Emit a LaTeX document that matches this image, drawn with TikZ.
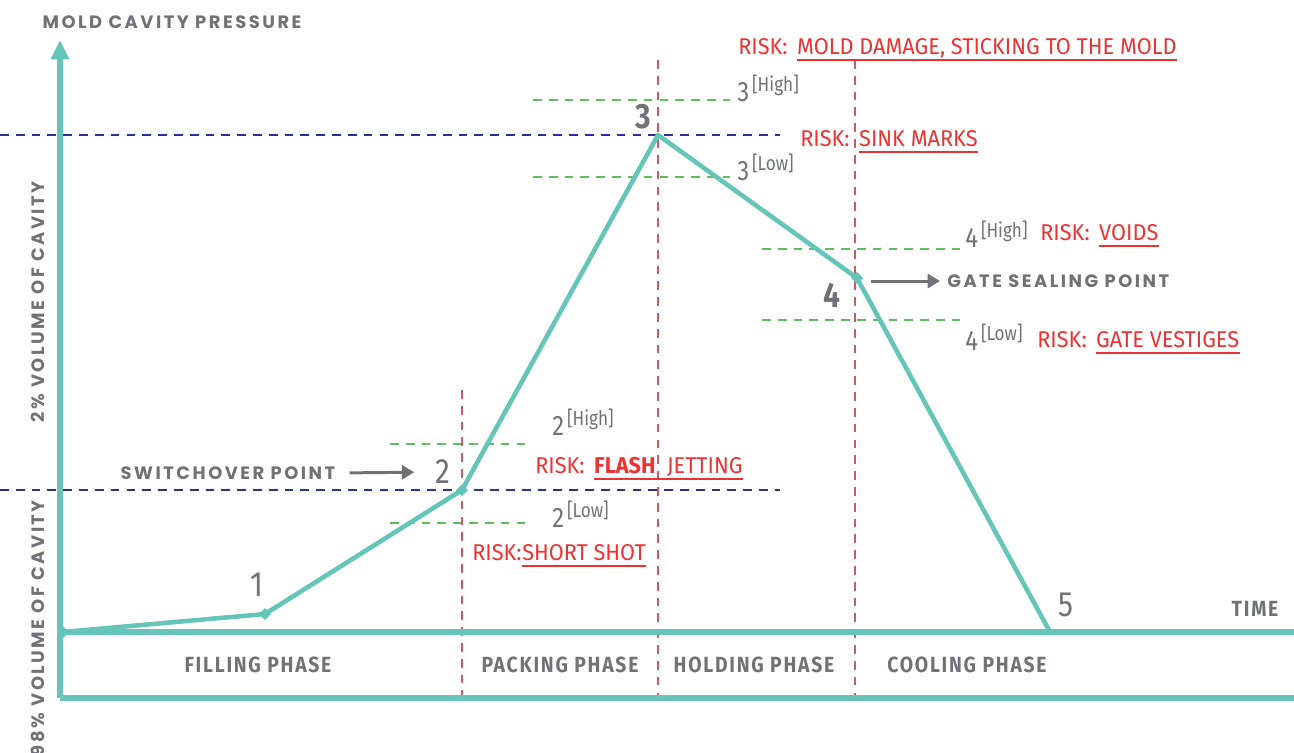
\documentclass[tikz,border=0pt]{standalone}
\usepackage{fontspec}
\setmainfont{Fira Sans}
\newfontfamily\capsfont[LetterSpace=14]{Poppins}
\newfontfamily\condfont[FakeStretch=0.85]{Fira Sans}
\newfontfamily\riskfont[FakeStretch=0.95]{Fira Sans}
\newfontfamily\phasefont[FakeStretch=0.88,LetterSpace=8]{Fira Sans}
\usetikzlibrary{arrows.meta}

\definecolor{curvecol}{RGB}{102,197,185}
\definecolor{labelgray}{RGB}{112,114,118}
\definecolor{riskred}{RGB}{236,50,50}
\definecolor{phaseline}{RGB}{214,86,100}
\definecolor{refblue}{RGB}{40,50,150}
\definecolor{limgreen}{RGB}{95,190,95}

\newcommand{\lvl}[2]{{\fontsize{16}{18}\selectfont #1}\,\raisebox{5.5pt}{\fontsize{11.5}{13}\selectfont[#2]}}

\tikzset{
  axis/.style={curvecol,line width=3.2pt},
  curve/.style={curvecol,line width=2.6pt,line join=round},
  phasesep/.style={phaseline,line width=0.6pt,dash pattern=on 5pt off 4pt},
  refline/.style={refblue,line width=0.6pt,dash pattern=on 5pt off 4pt},
  limline/.style={limgreen,line width=0.6pt,dash pattern=on 5pt off 4pt},
  capslabel/.style={labelgray,font=\capsfont\bfseries\fontsize{10.2}{12}\selectfont,inner sep=0pt},
  phaselabel/.style={labelgray,font=\phasefont\bfseries\fontsize{12.5}{14}\selectfont,inner sep=0pt},
  risk/.style={riskred,font=\riskfont\fontsize{13}{15}\selectfont,inner sep=0pt,anchor=base west},
  ulline/.style={riskred,line width=1.1pt},
  pointnum/.style={labelgray,font=\condfont\fontsize{20}{22}\selectfont,inner sep=0pt},
  bignum/.style={labelgray,font=\condfont\bfseries\fontsize{20}{22}\selectfont,inner sep=0pt},
  level/.style={labelgray,font=\condfont,inner sep=0pt,anchor=base west},
  pointer/.style={labelgray,line width=1.7pt,-{Triangle[length=7pt,width=8pt]}}
}

\begin{document}
\begin{tikzpicture}[x=0.02cm,y=-0.02cm]
  \useasboundingbox (0,0) rectangle (1294,752);

  \coordinate (origin) at (60,698);
  \coordinate (ytop) at (60,40);
  \coordinate (tstart) at (60,632);
  \coordinate (tend) at (1294,632);
  \coordinate (bend) at (1294,698);
  \coordinate (p0) at (63,632);
  \coordinate (p1) at (265,614);
  \coordinate (p2) at (462,490);
  \coordinate (p3) at (658,135);
  \coordinate (p4) at (857,278);
  \coordinate (p5) at (1050,632);

  \draw[limline] (533,100) -- (730,100);
  \draw[limline] (533,177) -- (730,177);
  \draw[limline] (762,249) -- (960,249);
  \draw[limline] (762,320) -- (960,320);
  \draw[limline] (390,444) -- (530,444);
  \draw[limline] (390,523) -- (530,523);
  \draw[refline] (0,135) -- (780,135);
  \draw[refline] (0,490) -- (780,490);
  \draw[phasesep] (462,390) -- (462,698);
  \draw[phasesep] (658,60) -- (658,698);
  \draw[phasesep] (855,60) -- (855,698);

  \draw[axis,-{Triangle[length=11pt,width=10pt]}] (origin) -- (ytop);
  \draw[axis] (origin) -- (bend);
  \draw[axis] (tstart) -- (tend);
  \draw[curve] (p0) -- (p1) -- (p2) -- (p3) -- (p4) -- (p5);
  \foreach \p in {p0,p1,p2,p4}
    \fill[curvecol] (\p) +(-6,0) -- +(0,-6) -- +(6,0) -- +(0,6) -- cycle;

  \node[capslabel] (ylabel) at (172,22) {MOLD CAVITY PRESSURE};
  \node[capslabel,rotate=90] (vol2) at (38,302) {2\% VOLUME OF CAVITY};
  \node[capslabel,rotate=90] (vol98) at (38,628) {98\% VOLUME OF CAVITY};
  \node[phaselabel] (time) at (1255,609) {TIME};

  \node[phaselabel] (filling) at (258,665) {FILLING PHASE};
  \node[phaselabel] (packing) at (560,665) {PACKING PHASE};
  \node[phaselabel] (holding) at (754,665) {HOLDING PHASE};
  \node[phaselabel] (cooling) at (967,665) {COOLING PHASE};

  \node[pointnum] (n1) at (257,585) {1};
  \node[pointnum] (n2) at (443,472) {2};
  \node[bignum] (n3) at (643,117) {3};
  \node[bignum] (n4) at (832,295) {4};
  \node[pointnum] (n5) at (1066,605) {5};

  \node[capslabel] (switch) at (228,473) {SWITCHOVER POINT};
  \node[capslabel,anchor=west] (gate) at (947,281) {GATE SEALING POINT};
  \draw[pointer,shorten <=8pt,shorten >=12pt] (switch.east) -- (n2.west);
  \draw[pointer,shorten <=17pt,shorten >=4pt] (gate.west -| n4.east) -- (gate.west);

  \node[level] (l3hi) at (737,101) {\lvl{3}{High}};
  \node[level] (l3lo) at (737,180) {\lvl{3}{Low}};
  \node[level] (l4hi) at (965,247) {\lvl{4}{High}};
  \node[level] (l4lo) at (965,350) {\lvl{4}{Low}};
  \node[level] (l2hi) at (552,435) {\lvl{2}{High}};
  \node[level] (l2lo) at (552,527) {\lvl{2}{Low}};

  \node[risk] (r3hi) at (738,54) {RISK:};
  \node[risk] (r3hiul) at ([xshift=5pt]r3hi.base east) {MOLD DAMAGE, STICKING TO THE MOLD};
  \node[risk] (r3) at (800,146) {RISK:};
  \node[risk] (r3ul) at ([xshift=5pt]r3.base east) {SINK MARKS};
  \node[risk] (r4hi) at (1040,240) {RISK:};
  \node[risk] (r4hiul) at ([xshift=5pt]r4hi.base east) {VOIDS};
  \node[risk] (r4lo) at (1037,347) {RISK:};
  \node[risk] (r4loul) at ([xshift=5pt]r4lo.base east) {GATE VESTIGES};
  \node[risk] (r2hi) at (535,473) {RISK:};
  \node[risk] (r2hiul) at ([xshift=5pt]r2hi.base east) {\textbf{FLASH} \ JETTING};
  \node[risk] (r2lo) at (472,560) {RISK:};
  \node[risk] (r2loul) at (r2lo.base east) {SHORT SHOT};
  \foreach \u in {r3hiul,r3ul,r4hiul,r4loul,r2hiul,r2loul}
    \draw[ulline] ([yshift=-3.5pt]\u.base west) -- ([yshift=-3.5pt]\u.base east);
\end{tikzpicture}
\end{document}
